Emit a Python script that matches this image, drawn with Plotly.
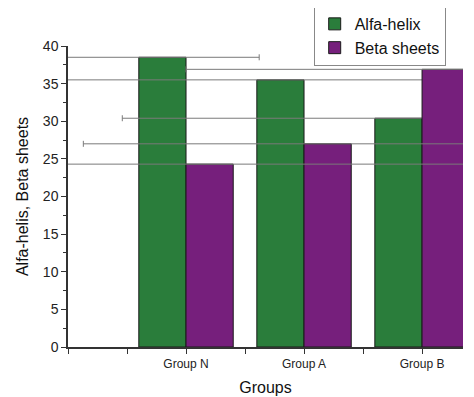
import plotly.graph_objects as go

groups = ["Group N", "Group A", "Group B"]
group_pos = [1, 2, 3]
alfa_helix = [38.5, 35.5, 30.4]
beta_sheets = [24.3, 27.0, 36.9]
alfa_err_x = [0.82, 1.9, 2.34]
beta_err_x = [2.3, 2.07, 2.2]

green = "#2a7d3b"
purple = "#761f7c"
err_col = "#7a7a7a"

fig = go.Figure()
fig.add_trace(go.Bar(
    x=group_pos, y=alfa_helix, name="Alfa-helix",
    marker=dict(color=green, line=dict(color="#1a1a1a", width=1)),
    error_x=dict(type="data", array=alfa_err_x, symmetric=True,
                 color=err_col, thickness=1, width=3),
))
fig.add_trace(go.Bar(
    x=group_pos, y=beta_sheets, name="Beta sheets",
    marker=dict(color=purple, line=dict(color="#1a1a1a", width=1)),
    error_x=dict(type="data", array=beta_err_x, symmetric=True,
                 color=err_col, thickness=1, width=3),
))

tickvals = [0, 0.5, 1, 1.5, 2, 2.5, 3]
ticktext = ["", "", groups[0], "", groups[1], "", groups[2]]

fig.update_layout(
    width=466, height=389,
    margin=dict(l=60, r=11, t=38, b=50, autoexpand=False),
    paper_bgcolor="white", plot_bgcolor="white",
    barmode="group", bargap=0.2, bargroupgap=0,
    font=dict(family="Liberation Sans, Arial", color="#222222", size=13),
    showlegend=True,
    legend=dict(x=0.622, y=1.133, xanchor="left", yanchor="top",
                bordercolor="#888888", borderwidth=1, bgcolor="white",
                font=dict(size=16, color="#111111"),
                tracegroupgap=0, itemwidth=30),
    xaxis=dict(
        range=[0, 3.347], tickmode="array", tickvals=tickvals, ticktext=ticktext,
        showgrid=False, zeroline=False, showline=True, linecolor="#333333", linewidth=1.5,
        ticks="outside", ticklen=5, tickcolor="#333333", tickwidth=1, automargin=False,
        tickfont=dict(size=12),
        title=dict(text="Groups", font=dict(size=16, color="#111111"), standoff=12),
    ),
    yaxis=dict(
        range=[0, 40], tickmode="linear", tick0=0, dtick=5,
        showgrid=False, zeroline=False, showline=True, linecolor="#333333", linewidth=1.5,
        ticks="outside", ticklen=5, tickcolor="#333333", tickwidth=1, automargin=False,
        tickfont=dict(size=14),
        minor=dict(dtick=2.5, ticks="outside", ticklen=3, tickcolor="#333333", showgrid=False),
        title=dict(text="Alfa-helis, Beta sheets", font=dict(size=16, color="#111111"), standoff=10),
    ),
)

fig.write_html("out.html")
